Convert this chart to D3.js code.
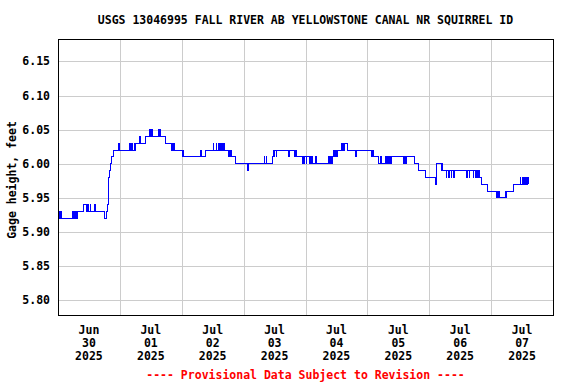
<!DOCTYPE html>
<html>
<head>
<meta charset="utf-8">
<script src="https://cdn.jsdelivr.net/npm/d3@7"></script>
<style>
  body { margin: 0; background: #fff; }
  text { font-family: "DejaVu Sans Mono", "Liberation Mono", monospace; font-weight: bold; }
</style>
</head>
<body>
<svg id="chart" width="576" height="384"></svg>
<script>
// hours after 2025-06-30 00:00 and gage height (ft) at each step change
const hours = [
  0, 0.25, 0.5, 0.75, 1.0, 1.25,
  5.8, 6.0, 6.25, 6.5, 6.75, 7.0, 7.25, 7.5, 7.75,
  10, 11.0, 11.25, 11.5, 11.75, 12.0, 12.5, 12.75,
  14, 14.5, 17.9, 18.9, 19.2, 19.4, 19.5, 19.9, 20.3, 20.6, 21.6,
  23.3, 23.7, 27.8, 28.1, 28.5, 28.75, 29.5, 29.75, 30.2, 31.6, 31.9,
  33.9, 35.6, 35.9, 36.2, 36.6, 38.8, 39.1, 39.4, 39.8, 41.7,
  43.9, 44.2, 44.5, 44.8, 45.0, 48.1, 48.4, 48.7,
  55.1, 55.6, 57.3, 60.3, 60.5, 61.3, 61.5,
  62.2, 62.5, 63.0, 63.25, 63.75, 64.0, 64.5, 64.75,
  66.3, 66.6, 66.9, 67.1, 67.4, 69.0, 73.6, 74.0,
  80.0, 80.25, 80.75, 81.0, 83.1, 83.4, 83.9, 84.1, 84.6, 84.8,
  89.3, 89.6, 91.9, 92.2, 92.7, 92.9,
  94.8, 95.1, 95.6, 95.8, 96.3, 96.5, 97.7, 98.0, 98.25, 98.5, 98.75,
  99.9, 100.2, 104.9, 105.2, 105.7, 105.9, 106.4,
  107.0, 107.3, 107.8, 108.0, 108.4, 110.0, 110.3, 110.6, 110.9, 111.3, 112.2,
  115.4, 115.7, 121.7, 122.0, 122.3, 124.3,
  125.2, 125.5, 127.0, 127.3, 127.8, 128.1, 128.6, 128.9, 129.4,
  134.2, 134.5, 134.8, 135.1, 138.1, 139.8, 142.6, 146.3, 146.9,
  148.8, 149.0, 149.3, 150.5, 150.8, 151.5, 151.8, 152.5, 152.75, 153.3, 153.6,
  158.5, 158.8, 159.5, 159.8, 161.0, 161.3, 162.0, 162.3, 162.8, 163.1, 163.4,
  164.3, 166.5, 170.2, 170.5, 170.8, 171.1, 171.4, 173.4, 173.7, 174.0, 174.3,
  176.6, 179.2, 179.5, 180.2, 180.4, 181.0, 181.2, 181.7, 181.9, 182.2, 182.4
];
const gageHeight = [
  5.93, 5.92, 5.93, 5.92, 5.93, 5.92,
  5.93, 5.92, 5.93, 5.92, 5.93, 5.92, 5.93, 5.92, 5.93,
  5.94, 5.93, 5.94, 5.93, 5.94, 5.93, 5.94, 5.93,
  5.94, 5.93, 5.92, 5.93, 5.94, 5.95, 5.98, 5.99, 6.00, 6.01, 6.02,
  6.03, 6.02, 6.03, 6.02, 6.03, 6.02, 6.03, 6.02, 6.03, 6.04, 6.03,
  6.04, 6.05, 6.04, 6.05, 6.04, 6.05, 6.04, 6.05, 6.04, 6.03,
  6.02, 6.03, 6.02, 6.03, 6.02, 6.01, 6.02, 6.01,
  6.02, 6.01, 6.02, 6.03, 6.02, 6.03, 6.02,
  6.03, 6.02, 6.03, 6.02, 6.03, 6.02, 6.03, 6.02,
  6.01, 6.02, 6.01, 6.02, 6.01, 6.00, 5.99, 6.00,
  6.01, 6.00, 6.01, 6.00, 6.01, 6.02, 6.01, 6.02, 6.01, 6.02,
  6.01, 6.02, 6.01, 6.02, 6.01, 6.01,
  6.00, 6.01, 6.00, 6.01, 6.00, 6.01, 6.00, 6.01, 6.00, 6.01, 6.00,
  6.01, 6.00, 6.01, 6.00, 6.01, 6.00, 6.01,
  6.02, 6.01, 6.02, 6.01, 6.02, 6.03, 6.02, 6.03, 6.02, 6.03, 6.02,
  6.01, 6.02, 6.01, 6.02, 6.01, 6.00,
  6.01, 6.00, 6.01, 6.00, 6.01, 6.00, 6.01, 6.00, 6.01,
  6.00, 6.01, 6.00, 6.01, 6.00, 5.99, 5.98, 5.97, 6.00,
  5.99, 6.00, 5.99, 5.98, 5.99, 5.98, 5.99, 5.98, 5.99, 5.98, 5.99,
  5.98, 5.99, 5.98, 5.99, 5.98, 5.99, 5.98, 5.99, 5.98, 5.99, 5.98,
  5.97, 5.96, 5.95, 5.96, 5.95, 5.96, 5.95, 5.96, 5.95, 5.96, 5.96,
  5.97, 5.98, 5.97, 5.98, 5.97, 5.98, 5.97, 5.98, 5.97, 5.98, 5.97
];
const yTicks = [5.80, 5.85, 5.90, 5.95, 6.00, 6.05, 6.10, 6.15];
const dayLabels = [
  ["Jun", "30", "2025"], ["Jul", "01", "2025"], ["Jul", "02", "2025"], ["Jul", "03", "2025"],
  ["Jul", "04", "2025"], ["Jul", "05", "2025"], ["Jul", "06", "2025"], ["Jul", "07", "2025"]
];

const start = new Date(Date.UTC(2025, 5, 30));
const end = new Date(Date.UTC(2025, 6, 8));
const data = hours.map((h, i) => ({ t: d3.utcMinute.offset(start, Math.round(h * 60)), v: gageHeight[i] }));

const plotL = 58, plotR = 553, plotT = 39, plotB = 315;
const svg = d3.select("#chart");

const x = d3.scaleUtc().domain([start, end]).range([plotL, plotR]);
const y = d3.scaleLinear().domain([5.7785, 6.1828]).range([plotB, plotT]);

// grid
const grid = svg.append("g").attr("stroke", "#cccccc").attr("stroke-width", 1).attr("shape-rendering", "crispEdges");
grid.selectAll("line.h").data(yTicks).enter().append("line")
  .attr("x1", plotL).attr("x2", plotR)
  .attr("y1", d => Math.round(y(d)) + 0.5).attr("y2", d => Math.round(y(d)) + 0.5);
const days = d3.utcDay.range(d3.utcDay.offset(start, 1), end);
grid.selectAll("line.v").data(days).enter().append("line")
  .attr("y1", plotT).attr("y2", plotB)
  .attr("x1", d => Math.round(x(d)) + 0.5).attr("x2", d => Math.round(x(d)) + 0.5);

// data line
const line = d3.line().x(d => x(d.t)).y(d => y(d.v)).curve(d3.curveStepAfter);
svg.append("path").datum(data)
  .attr("fill", "none").attr("stroke", "#0000ff").attr("stroke-width", 1)
  .attr("shape-rendering", "crispEdges")
  .attr("d", line);

// frame
svg.append("rect").attr("x", plotL + 0.5).attr("y", plotT + 0.5)
  .attr("width", plotR - plotL).attr("height", plotB - plotT)
  .attr("fill", "none").attr("stroke", "#000").attr("shape-rendering", "crispEdges");

// y tick labels
svg.selectAll("text.yt").data(yTicks).enter().append("text")
  .attr("x", plotL - 8).attr("y", d => y(d)).attr("dy", "0.35em")
  .attr("text-anchor", "end").attr("font-size", 11.5)
  .text(d3.format(".2f"));

// x labels at noon of each day
const noons = d3.utcDay.range(start, end).map(d => d3.utcHour.offset(d, 12));
const xl = svg.selectAll("text.xt").data(noons).enter().append("text")
  .attr("text-anchor", "middle").attr("font-size", 11.5)
  .attr("transform", d => `translate(${x(d)},0)`);
xl.selectAll("tspan").data((d, i) => dayLabels[i]).enter().append("tspan")
  .attr("x", 0).attr("y", (d, j) => 334 + j * 12.8).text(d => d);

// title
svg.append("text").attr("x", (plotL + plotR) / 2).attr("y", 24)
  .attr("text-anchor", "middle").attr("font-size", 11.5)
  .text("USGS 13046995 FALL RIVER AB YELLOWSTONE CANAL NR SQUIRREL ID");

// y axis title
svg.append("text").attr("transform", "translate(16,180) rotate(-90)")
  .attr("text-anchor", "middle").attr("font-size", 11.5)
  .text("Gage height, feet");

// footer
svg.append("text").attr("x", (plotL + plotR) / 2).attr("y", 379)
  .attr("text-anchor", "middle").attr("font-size", 11.5).attr("fill", "#ff0000")
  .text("---- Provisional Data Subject to Revision ----");
</script>
</body>
</html>
